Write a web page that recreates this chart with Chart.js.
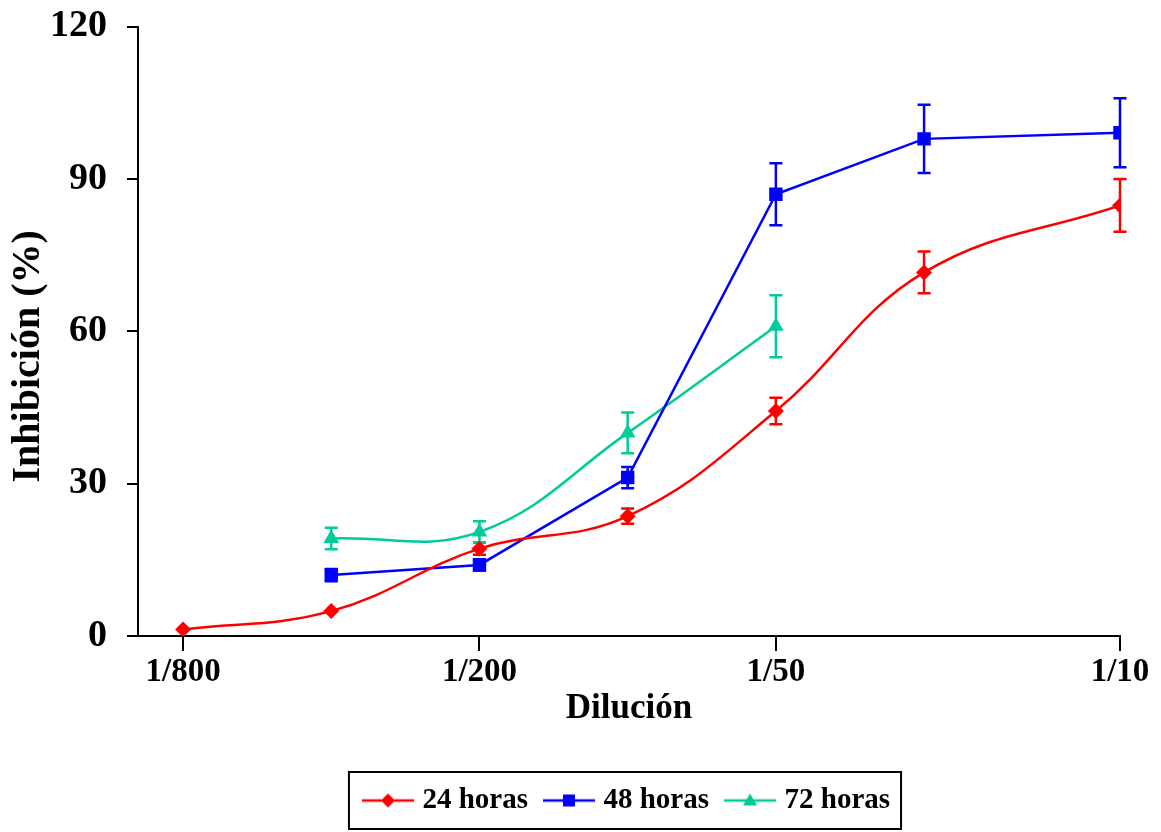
<!DOCTYPE html>
<html><head><meta charset="utf-8">
<script src="https://cdn.jsdelivr.net/npm/chart.js@4.4.1/dist/chart.umd.min.js"></script>
<style>html,body{margin:0;padding:0;background:#fff}</style>
</head><body>
<canvas id="c" width="1161" height="832"></canvas>
<script>
// ---- data ----
const dilutions = [1/800, 1/400, 1/200, 1/100, 1/50, 1/25, 1/10];
const tickValues = [1/800, 1/200, 1/50, 1/10];
const tickLabels = ['1/800', '1/200', '1/50', '1/10'];
const seriesNames = ['24 horas', '48 horas', '72 horas'];
const inh24 = [1.3, 4.9, 17.2, 23.6, 44.3, 71.6, 84.8];
const err24 = [0, 0, 1.2, 1.5, 2.6, 4.1, 5.2];
const inh48 = [null, 12.0, 14.0, 31.2, 87.0, 97.9, 99.1];
const err48 = [0, 1.2, 1.1, 2.1, 6.1, 6.7, 6.8];
const inh72 = [null, 19.2, 20.5, 40.0, 61.0];
const err72 = [0, 2.1, 2.1, 4.0, 6.1];
const colors = ['#ff0000', '#0000ff', '#00cc99'];

const FONT = "'Liberation Serif', 'Times New Roman', serif";

function pts(vals) {
  const out = [];
  vals.forEach((v, i) => { if (v !== null) out.push({x: dilutions[i], y: v}); });
  return out;
}
function errs(vals, e) {
  const out = [];
  vals.forEach((v, i) => { if (v !== null) out.push(e[i]); });
  return out;
}

function legendIcon(color, shape) {
  const cv = document.createElement('canvas');
  cv.width = 54; cv.height = 20;
  const g = cv.getContext('2d');
  g.strokeStyle = color; g.fillStyle = color; g.lineWidth = 2.5;
  g.beginPath(); g.moveTo(1, 10); g.lineTo(53, 10); g.stroke();
  g.beginPath();
  if (shape === 'diamond') { g.moveTo(27, 3); g.lineTo(34, 10); g.lineTo(27, 17); g.lineTo(20, 10); }
  else if (shape === 'square') { g.rect(21, 4, 12, 12); }
  else { g.moveTo(27, 3); g.lineTo(34, 15); g.lineTo(20, 15); }
  g.closePath(); g.fill();
  return cv;
}
const icons = [legendIcon(colors[0], 'diamond'), legendIcon(colors[1], 'square'), legendIcon(colors[2], 'tri')];

const errorBars = {
  id: 'errorBars',
  beforeDatasetsDraw(chart) {
    const ctx = chart.ctx, ys = chart.scales.y;
    chart.data.datasets.forEach((ds, di) => {
      const meta = chart.getDatasetMeta(di);
      ctx.save();
      ctx.strokeStyle = ds.borderColor; ctx.lineWidth = 2.5;
      meta.data.forEach((p, i) => {
        const e = ds.errors[i]; if (!e) return;
        const v = ds.data[i].y;
        const yt = ys.getPixelForValue(v + e), yb = ys.getPixelForValue(v - e);
        ctx.beginPath();
        ctx.moveTo(p.x, yt); ctx.lineTo(p.x, yb);
        ctx.moveTo(p.x - 6.5, yt); ctx.lineTo(p.x + 6.5, yt);
        ctx.moveTo(p.x - 6.5, yb); ctx.lineTo(p.x + 6.5, yb);
        ctx.stroke();
      });
      ctx.restore();
    });
  }
};

const legendBorder = {
  id: 'legendBorder',
  afterDraw(chart) {
    const hb = chart.legend.legendHitBoxes; if (!hb || !hb.length) return;
    const l = Math.min(...hb.map(h => h.left)), r = Math.max(...hb.map(h => h.left + h.width));
    const t = Math.min(...hb.map(h => h.top)), b = Math.max(...hb.map(h => h.top + h.height));
    const ctx = chart.ctx;
    ctx.save(); ctx.strokeStyle = '#000'; ctx.lineWidth = 2;
    ctx.strokeRect(l - 19, t - 14, (r - l) + 30, (b - t) + 28);
    ctx.restore();
  }
};

new Chart(document.getElementById('c'), {
  type: 'line',
  data: {
    datasets: [
      {label: seriesNames[0], data: pts(inh24), errors: errs(inh24, err24), borderColor: colors[0], backgroundColor: colors[0],
       borderWidth: 2.5, tension: 0.4, pointStyle: 'rectRot', pointRadius: 8, pointBorderWidth: 0, pointHoverRadius: 8},
      {label: seriesNames[1], data: pts(inh48), errors: errs(inh48, err48), borderColor: colors[1], backgroundColor: colors[1],
       borderWidth: 2.5, tension: 0, pointStyle: 'rect', pointRadius: 9.5, pointBorderWidth: 0, pointHoverRadius: 9.5},
      {label: seriesNames[2], data: pts(inh72), errors: errs(inh72, err72), borderColor: colors[2], backgroundColor: colors[2],
       borderWidth: 2.5, tension: 0.4, pointStyle: 'triangle', pointRadius: 9, pointBorderWidth: 0, pointHoverRadius: 9}
    ]
  },
  options: {
    responsive: false,
    animation: false,
    devicePixelRatio: 1,
    layout: {padding: {top: 0, right: 41, left: 0, bottom: 7}},
    plugins: {
      tooltip: {enabled: false},
      legend: {
        position: 'bottom', fullSize: false,
        labels: {
          usePointStyle: true, pointStyleWidth: 40, padding: 21, color: '#000',
          font: {family: FONT, size: 29, weight: 'bold'},
          generateLabels(chart) {
            return chart.data.datasets.map((ds, i) => ({
              text: ds.label, pointStyle: icons[i], fillStyle: ds.borderColor, strokeStyle: ds.borderColor,
              lineWidth: 0, hidden: false, datasetIndex: i, fontColor: '#000'
            }));
          }
        }
      }
    },
    scales: {
      x: {
        type: 'logarithmic', min: 0.0010125, max: 0.1,
        afterBuildTicks(s) { s.ticks = tickValues.map(v => ({value: v})); },
        afterFit(s) { s.height = 129; },
        ticks: {callback: (v, i) => tickLabels[i], autoSkip: false, maxRotation: 0, minRotation: 0, padding: 2, color: '#000',
                font: {family: FONT, size: 33, weight: 'bold'}},
        grid: {drawOnChartArea: false, tickLength: 15, color: '#000', lineWidth: 2},
        border: {color: '#000', width: 2},
        title: {display: true, text: 'Dilución', color: '#000', padding: {top: 0, bottom: 35},
                font: {family: FONT, size: 35, weight: 'bold'}}
      },
      y: {
        min: 0, max: 120,
        afterFit(s) { s.width = 138; },
        ticks: {stepSize: 30, padding: 20, color: '#000', font: {family: FONT, size: 38, weight: 'bold', lineHeight: 0.35}},
        grid: {drawOnChartArea: false, tickLength: 11, color: '#000', lineWidth: 2},
        border: {color: '#000', width: 2},
        title: {display: true, text: 'Inhibición (%)     ', color: '#000', padding: {top: 5, bottom: 0},
                font: {family: FONT, size: 40, weight: 'bold'}}
      }
    }
  },
  plugins: [errorBars, legendBorder]
});
</script>
</body></html>
